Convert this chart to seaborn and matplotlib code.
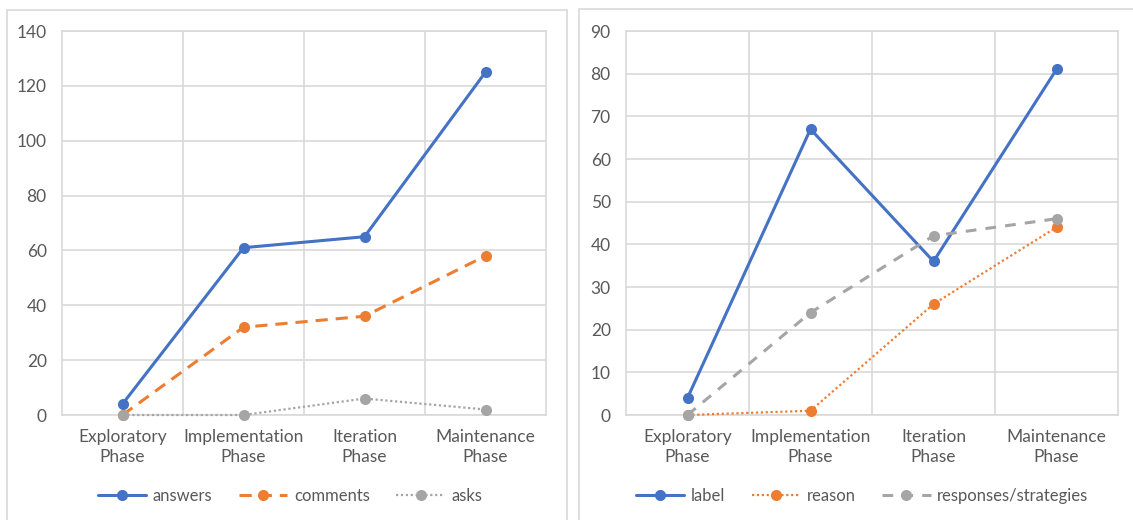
import matplotlib
matplotlib.use("Agg")
import matplotlib.pyplot as plt
import seaborn as sns
from matplotlib.patches import Rectangle
from matplotlib.ticker import FixedLocator, MultipleLocator

phases = ["Exploratory\nPhase", "Implementation\nPhase", "Iteration\nPhase", "Maintenance\nPhase"]

# left chart
answers = [4, 61, 65, 125]
comments = [0, 32, 36, 58]
asks = [0, 0, 6, 2]

# right chart
label_vals = [4, 67, 36, 81]
reason = [0, 1, 26, 44]
responses = [0, 24, 42, 46]

BLUE = "#4472C4"
ORANGE = "#ED7D31"
GRAY = "#A5A5A5"
GRID = "#D9D9D9"
TEXT = "#595959"

sns.set_theme(style="white")
plt.rcParams["font.family"] = ["Lato", "DejaVu Sans"]

SOLID = "-"
DASH = (0, (4, 2.6))
LONGDASH = (0, (3.5, 3))
DOT = (0, (1, 1.2))

fig = plt.figure(figsize=(11.33, 5.2), dpi=100)

# panel frames like the Excel chart areas
fig.add_artist(Rectangle((7 / 1133, -0.02), 560 / 1133, 1 - 10 / 520 + 0.02,
                         transform=fig.transFigure, fill=False, ec=GRID, lw=1.2))
fig.add_artist(Rectangle((579 / 1133, -0.02), 600 / 1133, 1 - 9 / 520 + 0.02,
                         transform=fig.transFigure, fill=False, ec=GRID, lw=1.2))


def make_axes(x0, x1):
    return fig.add_axes([x0 / 1133, 1 - 415 / 520, (x1 - x0) / 1133, (415 - 31) / 520])


def style_axes(ax, ymax, step):
    ax.set_xlim(-0.5, 3.5)
    ax.set_ylim(0, ymax)
    ax.yaxis.set_major_locator(MultipleLocator(step))
    ax.xaxis.set_minor_locator(FixedLocator([0.5, 1.5, 2.5]))
    ax.grid(axis="y", which="major", color=GRID, lw=1.2)
    ax.grid(axis="x", which="minor", color=GRID, lw=1.2)
    ax.set_axisbelow(True)
    for sp in ax.spines.values():
        sp.set_color(GRID)
        sp.set_linewidth(1.2)
    ax.tick_params(axis="both", which="both", length=0, labelsize=12.5, labelcolor=TEXT)
    ax.tick_params(axis="x", pad=10)
    ax.tick_params(axis="y", pad=11)
    for t in ax.get_xticklabels():
        t.set_linespacing(1.3)
    ax.set_xlabel("")
    ax.set_ylabel("")


def draw(ax, series):
    for name, vals, color, ls, lw in series:
        sns.lineplot(x=phases, y=vals, ax=ax, color=color, linestyle=ls, lw=lw,
                     marker="o", markersize=8, markeredgewidth=0, sort=False,
                     label=name, clip_on=False, zorder=3)


def add_legend(ax, cx):
    ax.legend(loc="center", bbox_to_anchor=(cx / 1133, 1 - 496 / 520),
              bbox_transform=fig.transFigure, ncol=3, frameon=False,
              fontsize=12, labelcolor=TEXT, handlelength=2.9,
              handletextpad=0.4, columnspacing=1.6)


ax1 = make_axes(62, 546)
draw(ax1, [
    ("answers", answers, BLUE, SOLID, 2.2),
    ("comments", comments, ORANGE, DASH, 2.2),
    ("asks", asks, GRAY, DOT, 1.6),
])
style_axes(ax1, 140, 20)
add_legend(ax1, 290)

ax2 = make_axes(626, 1118)
draw(ax2, [
    ("label", label_vals, BLUE, SOLID, 2.2),
    ("reason", reason, ORANGE, DOT, 1.6),
    ("responses/strategies", responses, GRAY, LONGDASH, 2.2),
])
style_axes(ax2, 90, 10)
add_legend(ax2, 862)

fig.savefig("out.png", dpi=100)
